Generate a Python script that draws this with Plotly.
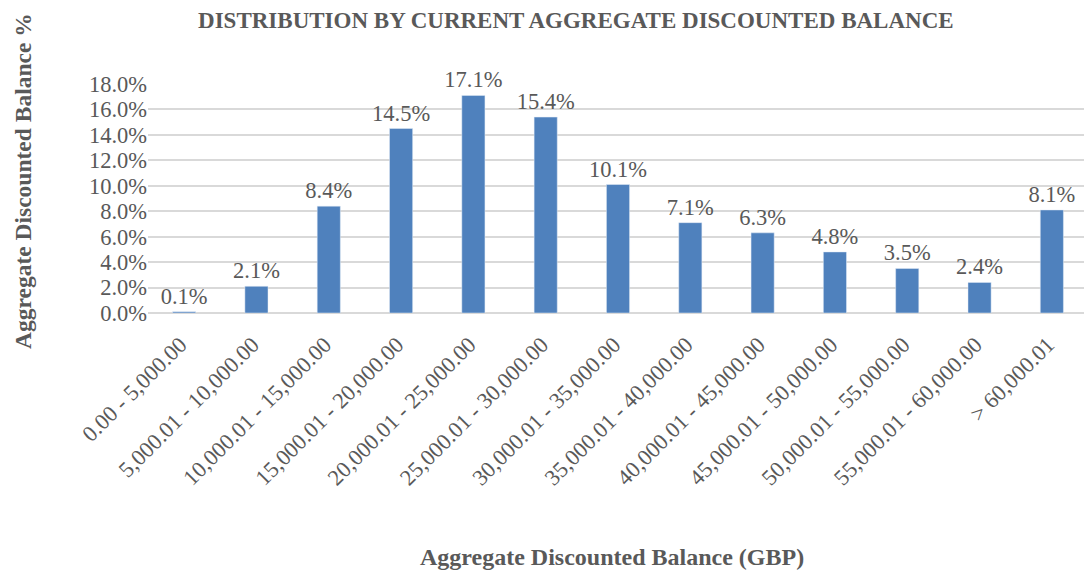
import plotly.graph_objects as go

categories = ["0.00 - 5,000.00", "5,000.01 - 10,000.00", "10,000.01 - 15,000.00",
              "15,000.01 - 20,000.00", "20,000.01 - 25,000.00", "25,000.01 - 30,000.00",
              "30,000.01 - 35,000.00", "35,000.01 - 40,000.00", "40,000.01 - 45,000.00",
              "45,000.01 - 50,000.00", "50,000.01 - 55,000.00", "55,000.01 - 60,000.00",
              "> 60,000.01"]
values_pct = [0.1, 2.1, 8.4, 14.5, 17.1, 15.4, 10.1, 7.1, 6.3, 4.8, 3.5, 2.4, 8.1]
values = [v / 100 for v in values_pct]
labels = [f"{v:.1f}%" for v in values_pct]

FONT = "Liberation Serif, Times New Roman, serif"
GREY = "#595959"

fig = go.Figure(go.Bar(
    x=categories, y=values, text=labels, textposition="outside",
    textfont=dict(family=FONT, size=22.5, color=GREY),
    constraintext="none",
    marker=dict(color="#4F81BD"), cliponaxis=False,
))

fig.update_layout(
    width=1092, height=576,
    margin=dict(l=140, r=12, t=76, b=271, autoexpand=False),
    paper_bgcolor="white", plot_bgcolor="white",
    bargap=0.68,
    showlegend=False,
    title=dict(text="<b>DISTRIBUTION BY CURRENT AGGREGATE DISCOUNTED BALANCE</b>",
               x=0.520, xanchor="center", y=1 - 12 / 576, yanchor="middle",
               font=dict(family=FONT, size=23, color=GREY)),
    font=dict(family=FONT, color=GREY),
)
fig.update_yaxes(range=[0, 0.18], dtick=0.02, tickformat=".1%",
                 tickfont=dict(family=FONT, size=22.5, color=GREY),
                 showgrid=True, gridcolor="#d9d9d9", gridwidth=1.5,
                 zeroline=True, zerolinecolor="#d9d9d9", zerolinewidth=1.5,
                 ticks="", showline=False, automargin=False)
fig.update_xaxes(tickangle=-45, tickfont=dict(family=FONT, size=22.5, color=GREY),
                 showline=False, ticks="", automargin=False,
                 ticklabelstandoff=13, ticklabelshift=-4)

fig.add_annotation(text="<b>Aggregate Discounted Balance %</b>", textangle=-90,
                   xref="paper", yref="paper", x=(23 - 148) / 940, y=(313 - 181) / 229,
                   xanchor="center", yanchor="middle", showarrow=False, borderpad=0,
                   font=dict(family=FONT, size=23.5, color=GREY))
fig.add_annotation(text="<b>Aggregate Discounted Balance (GBP)</b>",
                   xref="paper", yref="paper", x=(612 - 148) / 940, y=(313 - 557) / 229,
                   xanchor="center", yanchor="middle", showarrow=False,
                   font=dict(family=FONT, size=24, color=GREY))

fig.write_html("out.html")
